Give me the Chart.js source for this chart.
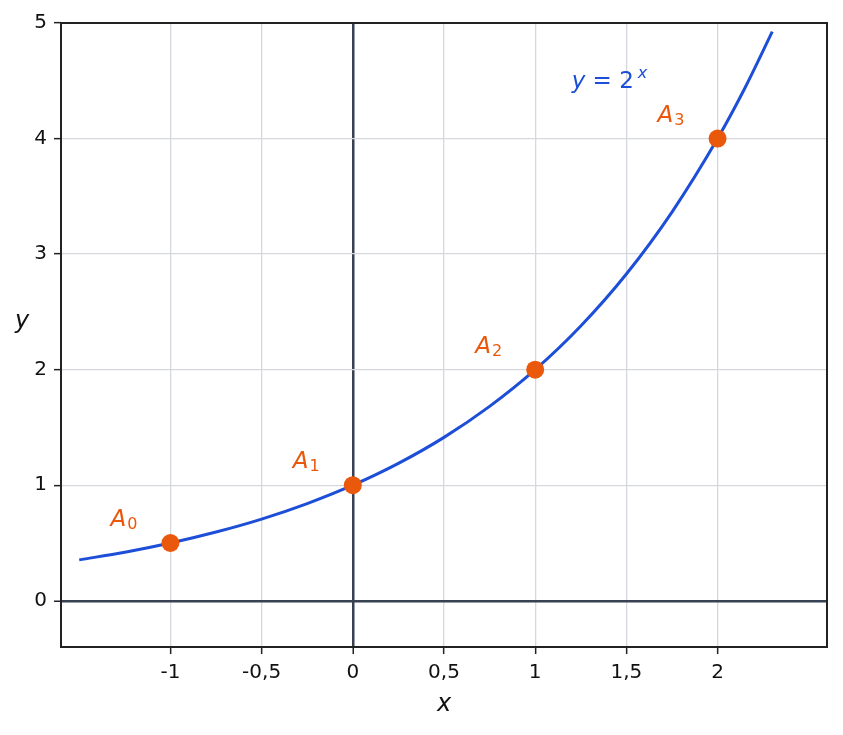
<!DOCTYPE html>
<html>
<head>
<meta charset="utf-8">
<script src="https://cdn.jsdelivr.net/npm/chart.js@4"></script>
<style>
  html, body { margin: 0; padding: 0; background: #fff; }
  #wrap { width: 843px; height: 735px; }
</style>
</head>
<body>
<div id="wrap"><canvas id="grafico" width="843" height="735"></canvas></div>
<script>
// curva y = 2^x
const curvaX = [-1.5, -1.25, -1, -0.75, -0.5, -0.25, 0, 0.25, 0.5, 0.75, 1, 1.25, 1.5, 1.75, 2, 2.15, 2.3];
const curvaY = [0.354, 0.42, 0.5, 0.595, 0.707, 0.841, 1, 1.189, 1.414, 1.682, 2, 2.378, 2.828, 3.364, 4, 4.438, 4.925];

// puntos A0..A3
const puntosX = [-1, 0, 1, 2];
const puntosY = [0.5, 1, 2, 4];
const puntosSub = ["0", "1", "2", "3"];

const ticksX = [-1, -0.5, 0, 0.5, 1, 1.5, 2];
const ticksY = [0, 1, 2, 3, 4, 5];

const AZUL = "#1d4ed8";
const NARANJA = "#ea580c";
const FUENTE = "'DejaVu Sans', sans-serif";

const marco = {
    id: "marco",
    afterDraw(chart) {
        const { ctx, chartArea: a, scales } = chart;
        ctx.save();
        ctx.strokeStyle = "#222";
        ctx.lineWidth = 2;
        ctx.strokeRect(a.left, a.top, a.right - a.left, a.bottom - a.top);

        // etiquetas A_i
        ctx.fillStyle = NARANJA;
        ctx.textBaseline = "alphabetic";
        ctx.textAlign = "left";
        puntosX.forEach((x, i) => {
            const px = scales.x.getPixelForValue(x);
            const py = scales.y.getPixelForValue(puntosY[i]);
            ctx.font = "italic 23px " + FUENTE;
            ctx.fillText("A", px - 60, py - 17);
            const w = ctx.measureText("A").width;
            ctx.font = "16px " + FUENTE;
            ctx.fillText(puntosSub[i], px - 60 + w + 1, py - 14);
        });

        // y = 2^x
        ctx.fillStyle = AZUL;
        let x0 = scales.x.getPixelForValue(1.2);
        const y0 = scales.y.getPixelForValue(4.44);
        ctx.font = "italic 23px " + FUENTE;
        ctx.fillText("y", x0, y0);
        x0 += ctx.measureText("y").width;
        ctx.font = "23px " + FUENTE;
        ctx.fillText(" = 2", x0, y0);
        x0 += ctx.measureText(" = 2").width + 4;
        ctx.font = "italic 16px " + FUENTE;
        ctx.fillText("x", x0, y0 - 10);

        // títulos de ejes
        ctx.fillStyle = "#111";
        ctx.font = "italic 24px " + FUENTE;
        ctx.textAlign = "center";
        ctx.fillText("x", (a.left + a.right) / 2, 711);
        ctx.fillText("y", 22, 328);
        ctx.restore();
    }
};

const colorGrid = ctx => (ctx.tick && ctx.tick.value === 0) ? "#374151" : "#d5d8dc";
const anchoGrid = ctx => (ctx.tick && ctx.tick.value === 0) ? 2.5 : 1.3;

new Chart(document.getElementById("grafico"), {
    type: "scatter",
    data: {
        datasets: [
            {
                data: puntosX.map((x, i) => ({ x: x, y: puntosY[i] })),
                showLine: false,
                pointRadius: 9,
                pointHoverRadius: 9,
                pointBackgroundColor: NARANJA,
                pointBorderWidth: 0,
                order: 0
            },
            {
                data: curvaX.map((x, i) => ({ x: x, y: curvaY[i] })),
                showLine: true,
                borderColor: AZUL,
                borderWidth: 3,
                pointRadius: 0,
                cubicInterpolationMode: "monotone",
                order: 1
            }
        ]
    },
    options: {
        responsive: false,
        devicePixelRatio: 1,
        animation: false,
        layout: { padding: { top: 23, right: 16, left: 0, bottom: 0 } },
        plugins: { legend: { display: false }, tooltip: { enabled: false } },
        scales: {
            x: {
                type: "linear",
                min: -1.6,
                max: 2.6,
                afterBuildTicks: s => { s.ticks = ticksX.map(v => ({ value: v })); },
                afterFit: s => { s.height = 88; },
                grid: { color: colorGrid, lineWidth: anchoGrid, tickColor: "#222", tickLength: 7, tickWidth: 1.5 },
                border: { display: false },
                ticks: {
                    padding: 7,
                    color: "#111",
                    font: { family: FUENTE, size: 20 },
                    callback: v => String(v).replace(".", ",")
                }
            },
            y: {
                type: "linear",
                min: -0.4,
                max: 5,
                afterBuildTicks: s => { s.ticks = ticksY.map(v => ({ value: v })); },
                afterFit: s => { s.width = 61; },
                grid: { color: colorGrid, lineWidth: anchoGrid, tickColor: "#222", tickLength: 7, tickWidth: 1.5 },
                border: { display: false },
                ticks: {
                    padding: 7,
                    color: "#111",
                    font: { family: FUENTE, size: 20 },
                    callback: v => String(v)
                }
            }
        }
    },
    plugins: [marco]
});
</script>
</body>
</html>
